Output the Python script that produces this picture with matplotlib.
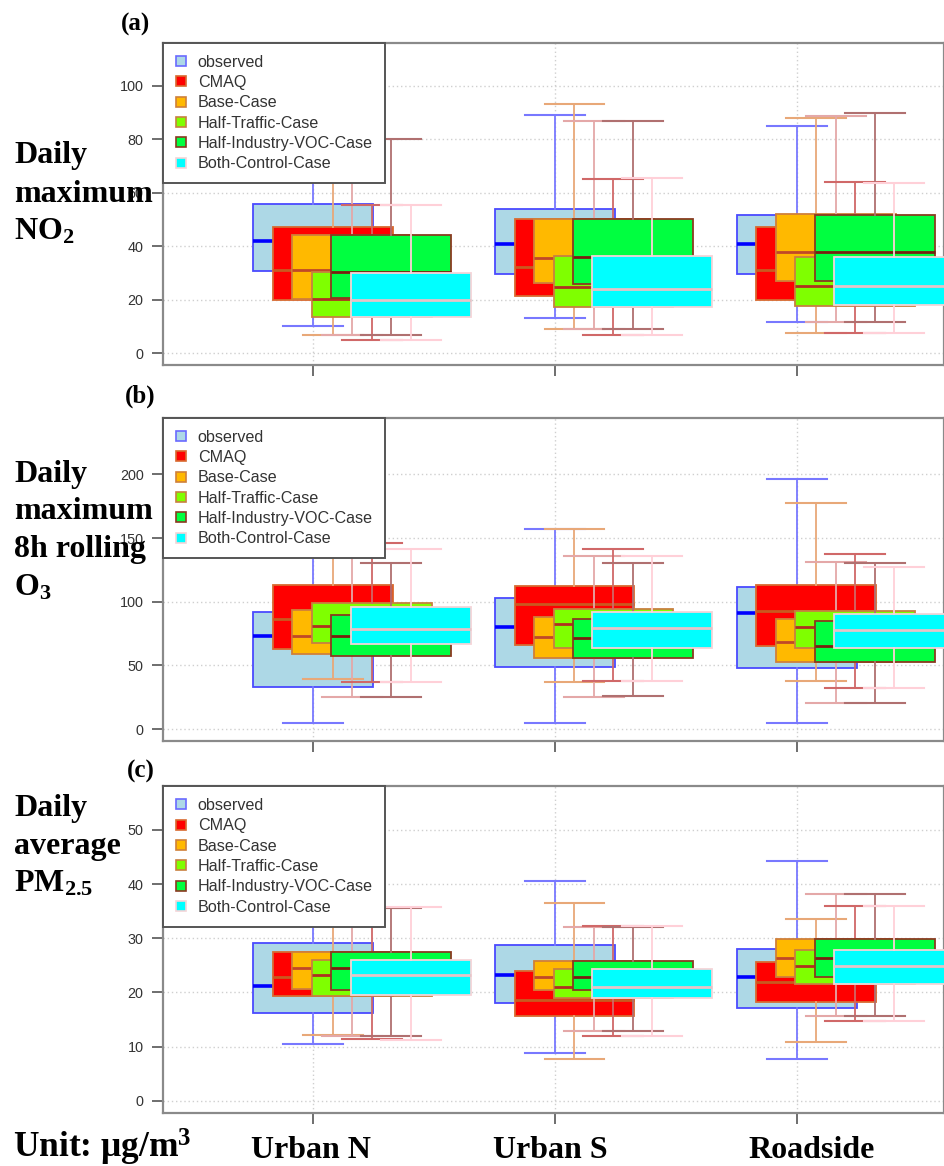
'''
box plots of observed vs modelled NO2, O3 and PM2.5 at three stations
for CMAQ and four emission-control cases
'''

import matplotlib
matplotlib.use("Agg")
import matplotlib.pyplot as plt
from matplotlib.lines import Line2D

# DEFINING DATA (whislo, q1, median, q3, whishi), rows = series, cols = station
STATIONS = ["Urban N", "Urban S", "Roadside"]
SERIES = ["observed", "CMAQ", "Base-Case", "Half-Traffic-Case",
          "Half-Industry-VOC-Case", "Both-Control-Case"]

NO2_LO = [[10.1, 13.0, 11.7], [6.7, 8.9, 7.6], [6.7, 8.9, 11.7],
          [5.0, 6.7, 7.6], [6.7, 9.2, 11.7], [5.0, 6.7, 7.6]]
NO2_Q1 = [[30.8, 29.6, 29.6], [20.1, 21.3, 20.1], [20.4, 26.1, 27.1],
          [13.6, 17.3, 17.6], [20.7, 25.8, 27.1], [13.6, 17.3, 17.9]]
NO2_MED = [[41.9, 40.7, 40.7], [31.0, 32.3, 31.1], [31.0, 35.8, 37.7],
           [20.4, 24.6, 25.1], [30.5, 36.1, 37.9], [20.1, 24.2, 25.1]]
NO2_Q3 = [[56.0, 53.8, 51.7], [47.1, 50.1, 47.1], [44.4, 50.1, 52.1],
          [30.3, 36.3, 36.1], [44.4, 50.1, 51.7], [30.2, 36.3, 36.1]]
NO2_HI = [[70.0, 89.1, 85.0], [75.0, 93.4, 88.1], [72.0, 86.9, 88.8],
          [55.4, 65.2, 64.2], [80.0, 86.9, 90.0], [55.4, 65.4, 63.8]]

O3_LO = [[4.4, 5.0, 5.0], [39.3, 36.7, 38.0], [24.9, 25.4, 20.2],
         [36.7, 37.7, 32.2], [24.9, 25.9, 20.2], [36.7, 37.7, 32.2]]
O3_Q1 = [[33.2, 48.5, 48.2], [62.6, 66.0, 65.4], [58.9, 56.0, 52.4],
         [67.3, 63.4, 63.4], [57.6, 55.5, 52.6], [66.5, 63.4, 63.4]]
O3_MED = [[73.0, 79.8, 91.3], [86.1, 98.2, 92.9], [73.3, 72.5, 68.6],
          [80.9, 82.5, 80.3], [73.0, 71.7, 65.3], [78.5, 79.1, 78.0]]
O3_Q3 = [[92.1, 102.6, 111.8], [113.1, 112.3, 112.8], [93.4, 87.7, 86.1],
         [98.7, 94.0, 92.9], [89.3, 86.6, 85.1], [95.5, 91.6, 90.6]]
O3_HI = [[145.0, 157.1, 196.3], [150.0, 157.0, 177.7], [140.0, 135.9, 130.9],
         [146.3, 141.1, 137.7], [130.1, 130.6, 130.6], [141.1, 135.9, 127.0]]

PM_LO = [[10.5, 8.8, 7.7], [12.2, 7.7, 10.9], [12.0, 12.8, 15.7],
         [11.4, 11.9, 14.8], [11.9, 12.8, 15.7], [11.3, 11.9, 14.8]]
PM_Q1 = [[16.2, 18.1, 17.1], [19.4, 15.7, 18.3], [20.6, 20.5, 22.9],
         [19.4, 18.9, 21.6], [20.5, 20.5, 22.9], [19.5, 18.9, 21.6]]
PM_MED = [[21.2, 23.2, 22.8], [22.9, 18.6, 22.0], [24.5, 22.9, 26.3],
          [23.2, 21.0, 24.8], [24.5, 22.9, 26.3], [23.2, 21.0, 24.8]]
PM_Q3 = [[29.2, 28.8, 28.0], [27.5, 24.0, 25.7], [27.4, 25.8, 29.8],
         [26.0, 24.3, 27.9], [27.4, 25.8, 29.8], [25.9, 24.3, 27.9]]
PM_HI = [[35.0, 40.6, 44.2], [36.0, 36.6, 33.5], [35.0, 32.0, 38.1],
         [35.5, 32.3, 36.0], [35.5, 32.0, 38.1], [35.8, 32.3, 36.0]]

NO2_TICKS = [0, 20, 40, 60, 80, 100]
O3_TICKS = [0, 50, 100, 150, 200]
PM_TICKS = [0, 10, 20, 30, 40, 50]

# styles per series
FILLS = ["#add8e6", "#ff0000", "#ffb900", "#7fff00", "#00ff40", "#00ffff"]
BORDERS = ["#4a4aff", "#d86a30", "#d0803a", "#c88040", "#8a3a20", "#f4d4d8"]
MEDIANS = ["#0000ff", "#c85a20", "#c04828", "#b03020", "#7a2010", "#e4c4c8"]
WHISKERS = ["#7878ff", "#e8a878", "#e4a8a8", "#d06868", "#b07070", "#ffd0d8"]

W, H = 945, 1166
SERIF = "Liberation Serif"
SANS = "Liberation Sans"
BOX_W = 0.496
STEP = 0.0806

plt.rcParams["mathtext.fontset"] = "custom"
plt.rcParams["mathtext.rm"] = "Liberation Serif:bold"
plt.rcParams["mathtext.bf"] = "Liberation Serif:bold"
plt.rcParams["mathtext.it"] = "Liberation Serif:bold:italic"


def px_rect(left, top, right, bottom):
    ''' axes rect in figure fractions from pixel edges '''
    return [left / W, 1 - bottom / H, (right - left) / W, (bottom - top) / H]


def draw_panel(ax, lo, q1, med, q3, hi, ticks, ylim):
    for k in range(len(SERIES)):
        stats = []
        for j in range(len(STATIONS)):
            stats.append(dict(whislo=lo[k][j], q1=q1[k][j], med=med[k][j],
                              q3=q3[k][j], whishi=hi[k][j], fliers=[]))
        positions = [j + 1 + k * STEP for j in range(len(STATIONS))]
        ax.bxp(stats, positions=positions, widths=BOX_W, patch_artist=True,
               showfliers=False, manage_ticks=False, zorder=3 + k,
               capwidths=BOX_W / 2,
               boxprops=dict(facecolor=FILLS[k], edgecolor=BORDERS[k], linewidth=1.3),
               whiskerprops=dict(color=WHISKERS[k], linewidth=1.3),
               capprops=dict(color=WHISKERS[k], linewidth=1.5),
               medianprops=dict(color=MEDIANS[k], linewidth=2.6 if k == 0 else 2.0))

    ax.set_xlim(1 - 150 / 241.8, 3 + 147 / 241.8)
    ax.set_ylim(*ylim)
    ax.set_xticks([1, 2, 3], labels=[])
    ax.set_yticks(ticks)
    ax.tick_params(axis="both", direction="out", length=8, width=1.2,
                   color="#555555", labelcolor="#333333", labelsize=10.4, pad=6)
    for lab in ax.get_yticklabels():
        lab.set_fontfamily(SANS)
    ax.grid(True, color="#cfcfcf", linestyle=(0, (1, 2)), linewidth=1.0)
    ax.set_axisbelow(True)
    for sp in ax.spines.values():
        sp.set_color("#8a8a8a")
        sp.set_linewidth(1.6)

    handles = [Line2D([], [], marker="s", linestyle="none", markersize=6.5,
                      markerfacecolor=FILLS[k], markeredgecolor=BORDERS[k] if k else "#6a6aff",
                      markeredgewidth=1.2) for k in range(len(SERIES))]
    leg = ax.legend(handles, SERIES, loc="upper left", bbox_to_anchor=(0, 1),
                    borderaxespad=0, fancybox=False, framealpha=1, edgecolor="#555555",
                    prop={"family": SANS, "size": 11.6}, handlelength=0.7,
                    handletextpad=0.7, borderpad=0.75, labelspacing=0.33)
    leg.get_frame().set_linewidth(1.4)
    leg.set_zorder(20)
    for t in leg.get_texts():
        t.set_color("#333333")


def fig_text(fig, x, y, s, size=23, ha="left"):
    fig.text(x / W, 1 - y / H, s, ha=ha, va="baseline", fontsize=size,
             family=SERIF, fontweight="bold", color="black")


def main():
    fig = plt.figure(figsize=(W / 100, H / 100), dpi=100)

    ax_a = fig.add_axes(px_rect(163, 42.7, 944, 365))
    draw_panel(ax_a, NO2_LO, NO2_Q1, NO2_MED, NO2_Q3, NO2_HI, NO2_TICKS, (-4.4, 116.2))
    ax_b = fig.add_axes(px_rect(163, 417.7, 944, 741))
    draw_panel(ax_b, O3_LO, O3_Q1, O3_MED, O3_Q3, O3_HI, O3_TICKS, (-9.4, 244.5))
    ax_c = fig.add_axes(px_rect(163, 786, 944, 1113.3))
    draw_panel(ax_c, PM_LO, PM_Q1, PM_MED, PM_Q3, PM_HI, PM_TICKS, (-2.3, 58.1))

    # panel letters
    fig_text(fig, 136, 31, "(a)", size=18, ha="center")
    fig_text(fig, 140, 403, "(b)", size=18, ha="center")
    fig_text(fig, 141, 778, "(c)", size=18, ha="center")

    # variable names on the left
    for y, s in zip([163, 202, 240], ["Daily", "maximum", "NO$_2$"]):
        fig_text(fig, 14, y, s)
    for y, s in zip([482, 519, 557, 596], ["Daily", "maximum", "8h rolling", "O$_3$"]):
        fig_text(fig, 14, y, s)
    for y, s in zip([816, 854, 892], ["Daily", "average", "PM$_{2.5}$"]):
        fig_text(fig, 14, y, s)

    fig_text(fig, 13, 1158, "Unit: \u03bcg/m$^3$", size=25.5)
    for x, s in zip([311, 550, 812], STATIONS):
        fig_text(fig, x, 1158, s, ha="center")

    fig.savefig("out.png", dpi=100)


if __name__ == "__main__":
    main()
